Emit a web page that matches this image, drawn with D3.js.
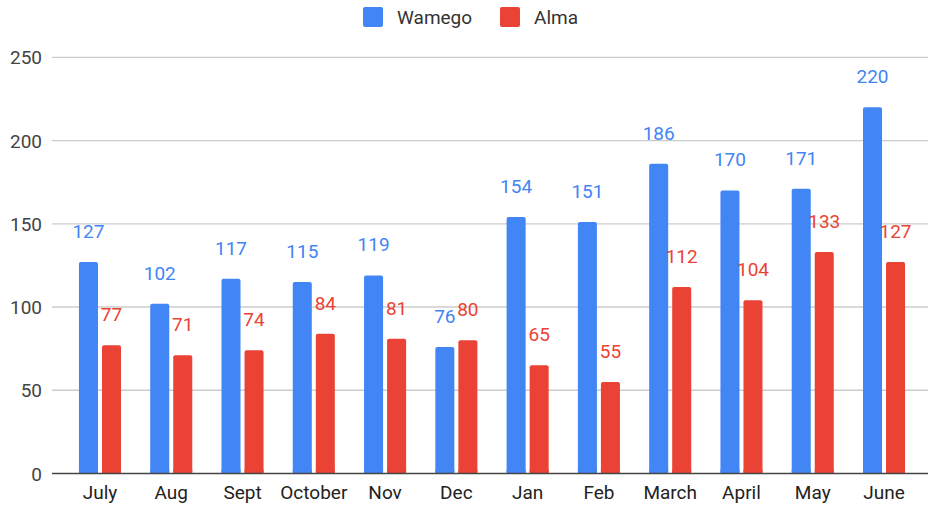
<!DOCTYPE html>
<html>
<head>
<meta charset="utf-8">
<script src="https://cdn.jsdelivr.net/npm/d3@7"></script>
<style>
    body { margin:0; background:#fff; }
    text { font-family: Roboto, "Noto Sans", sans-serif; }
</style>
</head>
<body>
<svg class="graph1"></svg>
<script>
// data
var months = ["July","Aug","Sept","October","Nov","Dec","Jan","Feb","March","April","May","June"];
var wamego = [127,102,117,115,119,76,154,151,186,170,171,220];
var alma   = [77,71,74,84,81,80,65,55,112,104,133,127];
var seriesNames = ["Wamego","Alma"];
var seriesColors = ["#4285F4","#EA4335"];
var yTicks = [0,50,100,150,200,250];

var makeTranslateString = function(x,y)
{
    return "translate("+x+","+y+")";
}

var drawAxes = function(svg,xScale,yScale)
{
    var grid = svg.append("g").classed("grid",true);

    grid.selectAll("line")
    .data(yTicks.filter(function(t){return t>0;}))
    .enter()
    .append("line")
    .attr("x1",52)
    .attr("x2",928)
    .attr("y1",function(d){return yScale(d);})
    .attr("y2",function(d){return yScale(d);})
    .attr("stroke","#cccccc")
    .attr("stroke-width",1.3)

    svg.append("g")
    .selectAll("text")
    .data(yTicks)
    .enter()
    .append("text")
    .text(function(d){return d;})
    .attr("x",42)
    .attr("y",function(d){return yScale(d)+7;})
    .attr("text-anchor","end")
    .attr("font-size",19)
    .attr("fill","#444")

    svg.append("g")
    .selectAll("text")
    .data(months)
    .enter()
    .append("text")
    .text(function(d){return d;})
    .attr("x",function(d){return xScale(d)+xScale.bandwidth()/2;})
    .attr("y",499)
    .attr("text-anchor","middle")
    .attr("font-size",19)
    .attr("fill","#222")
}

var drawBars = function(svg,table,xScale,x1,yScale)
{
    var groups = svg.append("g")
    .selectAll("g")
    .data(table)
    .enter()
    .append("g")
    .attr("transform",function(d){return makeTranslateString(xScale(d.month),0);})

    var cells = groups.selectAll("g")
    .data(function(d){
        return seriesNames.map(function(s,i){return {name:s,value:d.values[i],color:seriesColors[i]};});
    })
    .enter()
    .append("g")

    // clip the rounded bottom corners under the baseline
    cells.append("rect")
    .attr("x",function(d){return x1(d.name);})
    .attr("width",x1.bandwidth())
    .attr("y",function(d){return yScale(d.value);})
    .attr("height",function(d){return yScale(0)-yScale(d.value);})
    .attr("rx",2)
    .attr("fill",function(d){return d.color;})

    cells.append("rect")
    .attr("x",function(d){return x1(d.name);})
    .attr("width",x1.bandwidth())
    .attr("y",function(d){return yScale(0)-4;})
    .attr("height",4)
    .attr("fill",function(d){return d.color;})

    cells.append("text")
    .text(function(d){return d.value;})
    .attr("x",function(d){return x1(d.name)+x1.bandwidth()/2;})
    .attr("y",function(d){return yScale(d.value)-24;})
    .attr("text-anchor","middle")
    .attr("font-size",19)
    .attr("fill",function(d){return d.color;})
}

var drawLegend = function(svg)
{
    var legend = svg.append("g").classed("legend",true);
    var xs = [363,500];

    var items = legend.selectAll("g")
    .data(seriesNames)
    .enter()
    .append("g")
    .attr("transform",function(d,i){return makeTranslateString(xs[i],7);})

    items.append("rect")
    .attr("width",20)
    .attr("height",20)
    .attr("rx",2)
    .attr("fill",function(d,i){return seriesColors[i];})

    items.append("text")
    .text(function(d){return d;})
    .attr("x",34)
    .attr("y",17)
    .attr("font-size",19)
    .attr("fill","#333")
}

var initGraph = function()
{
    var screen = {width:928,height:508};

    var svg = d3.select(".graph1")
    .attr("width",screen.width)
    .attr("height",screen.height)

    var table = months.map(function(m,i){return {month:m,values:[wamego[i],alma[i]]};});

    var xScale = d3.scaleBand()
        .domain(months)
        .range([52,928])
        .paddingInner(0.41)
        .paddingOuter(0.35)
        .align(0.54)

    var x1 = d3.scaleBand()
        .domain(seriesNames)
        .range([0,xScale.bandwidth()])
        .paddingInner(0.174)

    var yScale = d3.scaleLinear()
        .domain([0,250])
        .range([473.5,57.3])

    drawAxes(svg,xScale,yScale);
    drawBars(svg,table,xScale,x1,yScale);

    // baseline over the bars
    svg.append("line")
    .attr("x1",52)
    .attr("x2",928)
    .attr("y1",yScale(0))
    .attr("y2",yScale(0))
    .attr("stroke","#444")
    .attr("stroke-width",1.6)

    drawLegend(svg);
}

initGraph();
</script>
</body>
</html>
